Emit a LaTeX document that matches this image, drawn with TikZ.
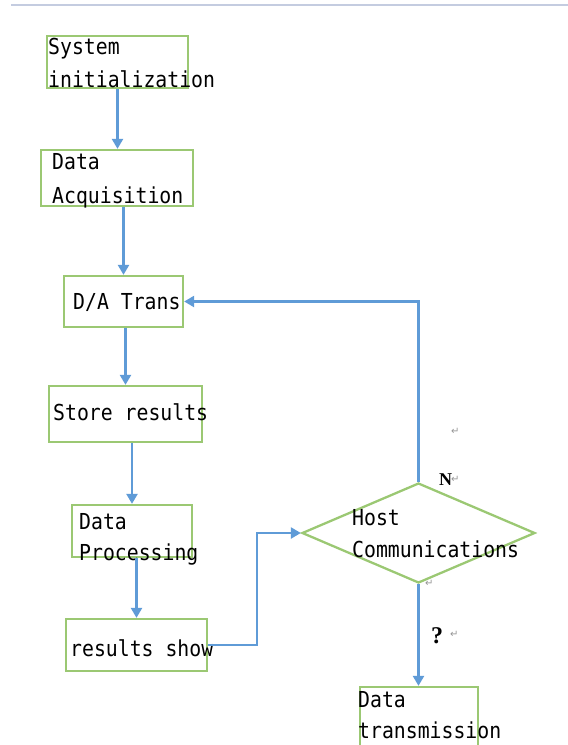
\documentclass[tikz,border=0pt]{standalone}
\usepackage{fontspec}
\usetikzlibrary{arrows.meta,shapes.geometric}
\newfontfamily\flowmono[FakeStretch=0.9]{DejaVu Sans Mono}
\newfontfamily\markfont{DejaVu Sans}
\newfontfamily\boldserif{Liberation Serif}
\definecolor{boxgreen}{RGB}{155,200,115}
\definecolor{flowblue}{RGB}{95,155,215}
\definecolor{rulegray}{RGB}{196,204,224}
\definecolor{markgray}{RGB}{150,150,150}
\tikzset{
  stepbox/.style={draw=boxgreen, line width=2.3pt, rectangle, inner sep=0pt},
  decision/.style={draw=boxgreen, line width=2.3pt, diamond, inner sep=0pt},
  txt/.style={anchor=base west, inner sep=0pt, font=\flowmono\fontsize{22}{22}\selectfont, text=black},
  arr/.style={draw=flowblue, line width=2.3pt, -{Triangle[width=11pt,length=10pt]}},
  pmark/.style={anchor=base west, inner sep=0pt, font=\markfont\fontsize{10}{10}\selectfont, text=markgray},
  flag/.style={anchor=base west, inner sep=0pt, font=\boldserif\bfseries\fontsize{18}{18}\selectfont}
}
\begin{document}
\begin{tikzpicture}[x=1pt,y=-1pt]
\useasboundingbox (0,0) rectangle (568,745);
\clip (0,0) rectangle (568,745);

% header rule
\draw[rulegray, line width=2.5pt] (11,5) -- (568,5);

% process boxes
\node[stepbox, minimum width=141pt, minimum height=52pt] (b1) at (117.5,62) {};
\node[stepbox, minimum width=152pt, minimum height=56pt] (b2) at (117,178) {};
\node[stepbox, minimum width=119pt, minimum height=51pt] (b3) at (123.5,301.5) {};
\node[stepbox, minimum width=153pt, minimum height=56pt] (b4) at (125.5,414) {};
\node[stepbox, minimum width=120pt, minimum height=52pt] (b5) at (132,531) {};
\node[stepbox, minimum width=141pt, minimum height=52pt] (b6) at (136.5,645) {};
\node[decision, minimum width=233pt, minimum height=100pt] (dia) at (418.5,533) {};
\node[stepbox, minimum width=118pt, minimum height=72pt] (b7) at (419,723) {};

% box texts
\node[txt] (t1a) at (48,54) {System};
\node[txt] (t1b) at (48,87) {initialization};
\node[txt] (t2a) at (52,169) {Data};
\node[txt] (t2b) at (52,203) {Acquisition};
\node[txt] (t3) at (73,309) {D/A Trans};
\node[txt] (t4) at (53,420) {Store results};
\node[txt] (t5a) at (79,529) {Data};
\node[txt] (t5b) at (79,560) {Processing};
\node[txt] (t6) at (70,656) {results show};
\node[txt] (t7a) at (352,525) {Host};
\node[txt] (t7b) at (352,557) {Communications};
\node[txt] (t8a) at (358,707) {Data};
\node[txt] (t8b) at (358,738) {transmission};

% connectors
\coordinate (j1) at (257,0);
\draw[arr] (b1.south) -- (b1.south |- b2.north);
\draw[arr] (b3.north |- b2.south) -- (b3.north);
\draw[arr] (b4.north |- b3.south) -- (b4.north);
\draw[arr] (b5.north |- b4.south) -- (b5.north);
\draw[arr] (b6.north |- b5.south) -- (b6.north);
\draw[arr] (b6.east) -| (j1 |- dia.west) -- (dia.west);
\draw[arr] (dia.north) |- (b3.east);
\draw[arr] (dia.south) -- (dia.south |- b7.north);

% branch labels and paragraph marks
\node[flag] (lN) at (439,485) {N};
\node[pmark] (pN) at (451,482) {↵};
\node[flag, font=\boldserif\bfseries\fontsize{24}{24}\selectfont] (lQ) at (431,643) {?};
\node[pmark] (pQ) at (450,637) {↵};
\node[pmark] (p1) at (451,434) {↵};
\node[pmark] (p2) at (425,586) {↵};
\end{tikzpicture}
\end{document}
